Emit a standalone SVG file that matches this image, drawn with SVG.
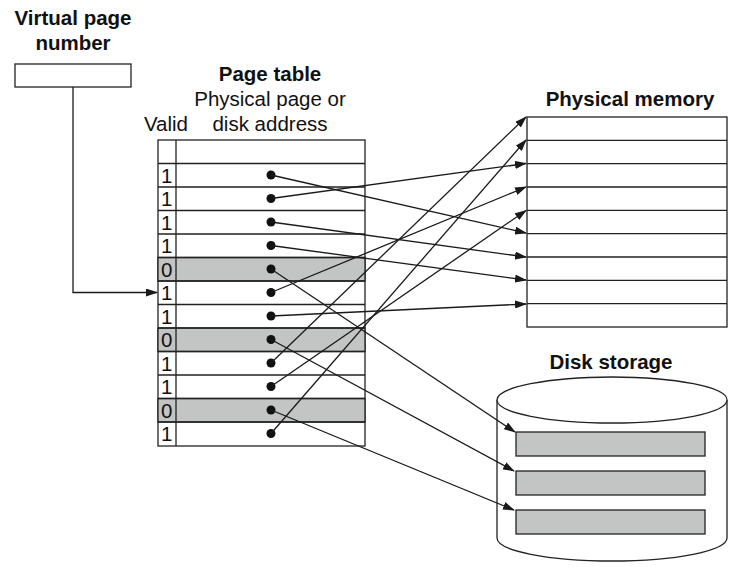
<svg xmlns="http://www.w3.org/2000/svg" width="750" height="568" viewBox="0 0 750 568">
<style>
text{font-family:"Liberation Sans",Arial,sans-serif;font-size:20.5px;fill:#111}
.b{font-weight:bold}
.c{text-anchor:middle}
.box{fill:#fff;stroke:#222;stroke-width:1.3}
.g{fill:#c3c4c4;stroke:#222;stroke-width:1.3}
.ln{stroke:#222;stroke-width:1.3;fill:none}
.cn{stroke:#1a1a1a;stroke-width:1.3;fill:none;marker-end:url(#ah)}
</style>
<defs>
<marker id="ah" markerWidth="12" markerHeight="8" refX="11" refY="4" orient="auto" markerUnits="userSpaceOnUse"><path d="M0,0 L12,4 L0,8 Z" fill="#1a1a1a"/></marker>
</defs>
<rect width="750" height="568" fill="#fff"/>
<g id="vpn">
<text class="b c" x="73" y="25">Virtual page</text>
<text class="b c" x="73" y="50">number</text>
<rect class="box" x="15" y="64" width="116" height="23"/>
</g>
<g id="pagetable">
<text class="b c" x="270" y="81">Page table</text>
<text class="c" x="270" y="106">Physical page or</text>
<text class="c" x="270" y="131">disk address</text>
<text class="c" x="166" y="131">Valid</text>
<rect class="box" x="158" y="140" width="207" height="306"/>
<rect class="g" x="158" y="257.5" width="207" height="23.5"/>
<rect class="g" x="158" y="328" width="207" height="23.5"/>
<rect class="g" x="158" y="398.5" width="207" height="23.5"/>
<path class="ln" d="M176,140V446 M158,163.5H365 M158,187H365 M158,210.5H365 M158,234H365 M158,257.5H365 M158,281H365 M158,304.5H365 M158,328H365 M158,351.5H365 M158,375H365 M158,398.5H365 M158,422H365"/>
<g>
<text x="161" y="183">1</text><text x="161" y="206">1</text><text x="161" y="230">1</text><text x="161" y="253">1</text>
<text x="161" y="277">0</text><text x="161" y="300">1</text><text x="161" y="324">1</text><text x="161" y="347">0</text>
<text x="161" y="371">1</text><text x="161" y="394">1</text><text x="161" y="418">0</text><text x="161" y="441">1</text>
</g>
<g fill="#111">
<circle cx="271" cy="175" r="4.5"/><circle cx="271" cy="198.5" r="4.5"/><circle cx="271" cy="222" r="4.5"/><circle cx="271" cy="245.5" r="4.5"/>
<circle cx="271" cy="269" r="4.5"/><circle cx="271" cy="292.5" r="4.5"/><circle cx="271" cy="316" r="4.5"/><circle cx="271" cy="339.5" r="4.5"/>
<circle cx="271" cy="363" r="4.5"/><circle cx="271" cy="386.5" r="4.5"/><circle cx="271" cy="410" r="4.5"/><circle cx="271" cy="433.5" r="4.5"/>
</g>
</g>
<g id="physmem">
<text class="b c" x="630" y="106">Physical memory</text>
<rect class="box" x="527" y="117" width="200" height="210"/>
<path class="ln" d="M527,140.3H727 M527,163.7H727 M527,187H727 M527,210.3H727 M527,233.7H727 M527,257H727 M527,280.3H727 M527,303.7H727"/>
</g>
<g id="disk">
<text class="b c" x="611" y="369">Disk storage</text>
<path class="box" d="M497,400 V538 A115,23 0 0 0 727,538 V400"/>
<ellipse class="box" cx="612" cy="400" rx="115" ry="23"/>
<rect class="g" x="516" y="432" width="189" height="24"/>
<rect class="g" x="516" y="471" width="189" height="24"/>
<rect class="g" x="516" y="510" width="189" height="24"/>
</g>
<g id="connectors">
<path class="cn" d="M73,87V292.5H157"/>
<path class="cn" d="M271,175L526,233"/>
<path class="cn" d="M271,198.5L526,163.5"/>
<path class="cn" d="M271,222L526,257"/>
<path class="cn" d="M271,245.5L526,280"/>
<path class="cn" d="M271,269L515,432"/>
<path class="cn" d="M271,292.5L526,187"/>
<path class="cn" d="M271,316L526,304"/>
<path class="cn" d="M271,339.5L514,471"/>
<path class="cn" d="M271,363L526,117"/>
<path class="cn" d="M271,386.5L526,210.5"/>
<path class="cn" d="M271,410L514,510"/>
<path class="cn" d="M271,433.5L526,140"/>
</g>
</svg>
